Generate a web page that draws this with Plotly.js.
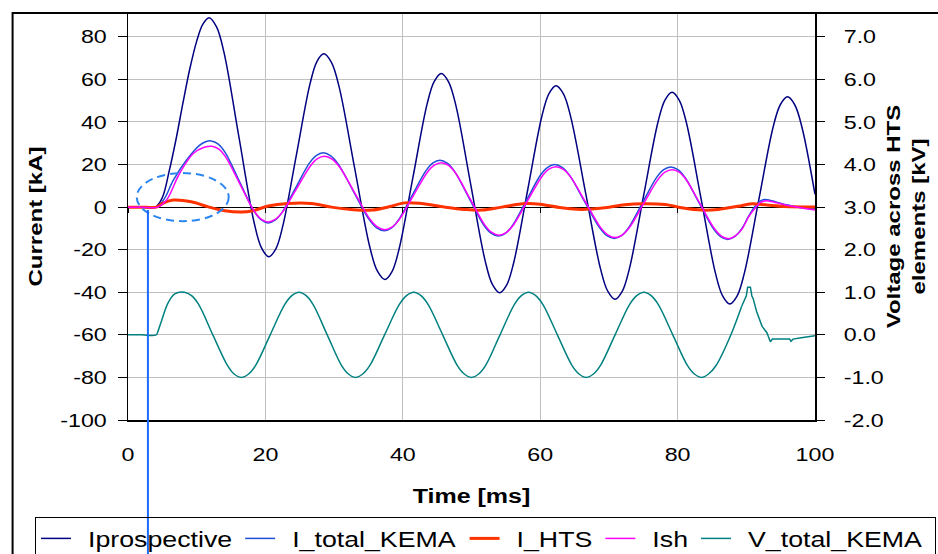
<!DOCTYPE html>
<html><head><meta charset="utf-8">
<script src="https://cdn.plot.ly/plotly-3.0.1.min.js"></script>
<style>html,body{margin:0;padding:0;background:#fff;overflow:hidden}#chart{width:938px;height:554px}</style>
</head><body><div id="chart"></div>
<script>
// ---- data (time in ms, currents in kA, voltage in kV) ----
var tIp = [0, 2, 4.0, 5.0, 6.0, 7.0, 8.0, 9.0, 10.0, 10.9, 11.8,
  12.89, 13.98, 16.15, 18.33, 19.41, 20.5, 21.5, 22.5, 24.5, 26.5, 27.5, 28.5,
  29.61, 30.73, 32.95, 35.18, 36.29, 37.4, 38.43, 39.45, 41.5, 43.55, 44.58, 45.6,
  46.66, 47.73, 49.85, 51.98, 53.04, 54.1, 55.13, 56.15, 58.2, 60.25, 61.28, 62.3,
  63.38, 64.45, 66.6, 68.75, 69.83, 70.9, 71.94, 72.98, 75.05, 77.13, 78.16, 79.2,
  80.25, 81.3, 83.4, 85.5, 86.55, 87.6, 88.65, 89.7, 91.8, 93.9, 94.95, 96.0,
  97.05, 98.1, 100];
var Iprospective = [0, 0, 0, 4.5, 17, 32, 49, 65, 78, 86, 89,
  84.7, 72.55, 32.85, -6.85, -19.0, -23.3, -19.7, -9.3, 24.35, 58.0, 68.4, 72,
  68.0, 56.5, 19, -18.5, -30.0, -34, -30.3, -19.8, 14.4, 48.6, 59.1, 62.8,
  58.9, 47.7, 11.3, -25.1, -36.3, -40.2, -36.5, -26.0, 8.4, 42.8, 53.3, 57,
  53.2, 42.3, 6.85, -28.6, -39.5, -43.3, -39.6, -29.0, 5.35, 39.75, 50.3, 54,
  50.2, 39.4, 4.25, -30.9, -41.7, -45.5, -41.8, -31.25, 3.15, 37.55, 48.1, 51.8,
  48.1, 37.55, 6];

var tItot = [0, 2, 4.2, 5.3, 6.6, 8.5, 10.4, 11.3, 12.1,
  13.14, 14.18, 16.25, 18.33, 19.36, 20.4, 21.4, 22.4, 24.4, 26.4, 27.4, 28.4,
  29.51, 30.63, 32.85, 35.08, 36.19, 37.3, 38.31, 39.33, 41.35, 43.38, 44.39, 45.4,
  46.46, 47.53, 49.65, 51.78, 52.84, 53.9, 54.93, 55.95, 58.0, 60.05, 61.08, 62.1,
  63.19, 64.28, 66.45, 68.63, 69.71, 70.8, 71.83, 72.85, 74.9, 76.95, 77.98, 79.0,
  80.04, 81.08, 83.15, 85.23, 86.26, 87.3, 88.3, 89.3, 90.3, 91.3, 92.0, 92.6,
  93.3, 94.3, 95.6, 97.6, 100];
var I_total_KEMA = [0, 0, 0, 4, 12.7, 22, 29, 30.7, 31.1,
  29.6, 25.5, 11.85, -1.8, -5.9, -7.4, -6.15, -2.6, 9.05, 20.7, 24.25, 25.5,
  24.1, 20.1, 7.2, -5.75, -9.7, -11.1, -9.85, -6.25, 5.45, 17.15, 20.75, 22,
  20.65, 16.8, 4.2, -8.4, -12.25, -13.6, -12.3, -8.7, 3.2, 15.1, 18.7, 20,
  18.7, 14.9, 2.65, -9.6, -13.4, -14.7, -13.4, -9.8, 2.1, 14.0, 17.6, 18.9,
  17.6, 13.9, 1.85, -10.2, -13.9, -15.2, -13.9, -10.4, -4.5, 0.5, 2.8, 3.6,
  3.4, 2.4, 1.3, -0.1, -0.8];

var tHTS = [0, 2, 4.1, 5.2, 6.6, 9.2, 11.7, 14.1, 16.5, 18.2, 20.4, 23.3, 26.7, 29.6, 32.5, 35.5, 38.0, 40.3, 42.7, 46.1, 49.0, 51.5, 54.4, 57.8, 60.0, 63.1, 66.0, 69.4, 72.3, 75.0, 78.2, 80.6, 83.5, 85.9, 88.8, 90.8, 93.0, 95.6, 100];
var I_HTS = [0, 0, 0, 2.0, 3.3, 2.5, 0.1, -1.7, -2.3, -1.7, 0.5, 1.7, 1.7, 0, -1.1, -1.4, 0.2, 2.0, 1.7, 0, -1.1, -1.4, 0, 1.7, 1.4, -0.3, -1.1, -0.3, 1.1, 1.6, 1.2, -0.3, -1.4, -1.1, 0.4, 1.6, 1.0, 0.3, 0.1];

var tIsh = [0, 2, 4.3, 5.6, 7.5, 9.5, 11.0, 12.2,
  13.23, 14.25, 16.3, 18.35, 19.38, 20.4, 21.43, 22.45, 24.5, 26.55, 27.58, 28.6,
  29.7, 30.8, 33.0, 35.2, 36.3, 37.4, 38.43, 39.45, 41.5, 43.55, 44.58, 45.6,
  46.65, 47.7, 49.8, 51.9, 52.95, 54.0, 55.04, 56.08, 58.15, 60.23, 61.26, 62.3,
  63.38, 64.45, 66.6, 68.75, 69.83, 70.9, 71.94, 72.98, 75.05, 77.13, 78.16, 79.2,
  80.23, 81.25, 83.3, 85.35, 86.38, 87.4, 88.4, 89.4, 90.4, 91.4, 92.1, 92.9,
  93.6, 94.5, 96.5, 98.5, 100];
var Ish = [0, 0, 0, 3.3, 15.8, 25.2, 28.0, 28.6,
  27.25, 23.4, 10.8, -1.8, -5.65, -7.0, -5.8, -2.45, 8.45, 19.35, 22.75, 23.9,
  22.6, 18.85, 6.65, -5.55, -9.3, -10.6, -9.4, -6.0, 5.15, 16.3, 19.7, 20.9,
  19.6, 15.9, 3.85, -8.2, -11.9, -13.2, -12.0, -8.5, 2.9, 14.3, 17.8, 19,
  17.75, 14.1, 2.35, -9.4, -13.0, -14.3, -13.1, -9.6, 1.65, 12.9, 16.4, 17.6,
  16.4, 12.85, 1.4, -10.05, -13.6, -14.8, -13.5, -10.2, -4.2, 0, 2.2, 3.0,
  2.7, 2.0, 0.5, -0.6, -1.4];

var tV = [0, 2, 4.1, 4.4, 4.9, 5.8, 6.8, 8.2,
  9.25, 10.3, 12.35, 14.45, 15.45, 16.5, 17.55, 18.6, 20.7, 22.8, 23.85, 24.9,
  25.93, 26.95, 29.0, 31.05, 32.08, 33.1, 34.16, 35.23, 37.35, 39.48, 40.54, 41.6,
  42.65, 43.7, 45.8, 47.9, 48.95, 50.0, 51.04, 52.08, 54.15, 56.23, 57.26, 58.3,
  59.35, 60.4, 62.5, 64.6, 65.65, 66.7, 67.75, 68.8, 70.9, 73.0, 74.05, 75.1,
  76.15, 77.2, 79.3, 81.4, 82.45, 83.5, 84.5, 85.6, 87.7, 89.3,
  90.0, 90.2, 90.6, 90.8, 91.0, 91.5, 92.3, 93.0, 93.5, 93.8, 96.3, 96.5, 96.8, 98.0, 100];
var V_total_KEMA = [0, 0, 0, 0.1, 0.34, 0.74, 0.96, 1.0,
  0.92, 0.71, 0, -0.71, -0.92, -1.0, -0.92, -0.71, 0, 0.71, 0.92, 1.0,
  0.92, 0.71, 0, -0.71, -0.92, -1.0, -0.92, -0.71, 0, 0.71, 0.92, 1.0,
  0.92, 0.71, 0, -0.71, -0.92, -1.0, -0.92, -0.71, 0, 0.71, 0.92, 1.0,
  0.92, 0.71, 0, -0.71, -0.92, -1.0, -0.92, -0.71, 0, 0.71, 0.92, 1.0,
  0.92, 0.71, 0, -0.71, -0.92, -1.0, -0.92, -0.72, -0.02, 0.66,
  0.92, 1.12, 1.12, 0.92, 0.85, 0.55, 0.2, 0.05, -0.16, -0.1, -0.1, -0.15, -0.1, -0.07, -0.02];
var V_SMOOTH_END_T = 89.3; // smooth sinusoidal part ends here, the switching transient follows

var xTicks = [0, 20, 40, 60, 80, 100];
var yTicks = [-100, -80, -60, -40, -20, 0, 20, 40, 60, 80];
var y2Ticks = [-2, -1, 0, 1, 2, 3, 4, 5, 6, 7];

// annotation marks (dashed ellipse and marker line), in data units
var ellipseBox = {x0: 1.27, x1: 14.66, y0: -6.6, y1: 16.0};
var markerT = 2.9, markerTopI = -1.4;

// ---- style ----
var S = 1.25; // horizontal glyph stretch of the reference font
var FONT = 'Liberation Sans, Arial, Helvetica, sans-serif';
var Y_RANGE = [-100, 91.2];
var Y2_RANGE = [-2, 7.56];

function ln(color, width, shape) { return {color: color, width: width, shape: shape, simplify: false}; }
var vSplit = tV.indexOf(V_SMOOTH_END_T);

var traces = [
  {x: tIp, y: Iprospective, name: 'Iprospective', type: 'scatter', mode: 'lines', line: ln('#000080', 1.5, 'spline')},
  {x: tItot, y: I_total_KEMA, name: 'I_total_KEMA', type: 'scatter', mode: 'lines', line: ln('#1f4fd6', 1.5, 'spline')},
  {x: tHTS, y: I_HTS, name: 'I_HTS', type: 'scatter', mode: 'lines', line: ln('#ff3300', 3, 'spline')},
  {x: tIsh, y: Ish, name: 'Ish', type: 'scatter', mode: 'lines', line: ln('#ff00ff', 1.5, 'spline')},
  {x: tV.slice(0, vSplit + 1), y: V_total_KEMA.slice(0, vSplit + 1), name: 'V_total_KEMA',
   type: 'scatter', mode: 'lines', xaxis: 'x2', yaxis: 'y2', line: ln('#008080', 1.5, 'spline')},
  {x: tV.slice(vSplit), y: V_total_KEMA.slice(vSplit), name: 'V_total_KEMA (transient)',
   showlegend: false, type: 'scatter', mode: 'lines', xaxis: 'x2', yaxis: 'y2', line: ln('#008080', 1.5, 'linear')}
];

function paperY(v) { return (v - Y_RANGE[0]) / (Y_RANGE[1] - Y_RANGE[0]); }

var layout = {
  width: 938, height: 554,
  margin: {l: 128, r: 123, t: 13, b: 134, autoexpand: false},
  paper_bgcolor: '#ffffff', plot_bgcolor: '#ffffff',
  font: {family: FONT, color: '#000000', size: 18.6},
  showlegend: true,
  legend: {orientation: 'h', x: -0.1354, xanchor: 'left', y: -0.2383, yanchor: 'top',
    bordercolor: '#000000', borderwidth: 1, bgcolor: 'rgba(0,0,0,0)',
    font: {family: FONT, size: 21.4, color: '#000000'}},
  xaxis: {range: [0, 100], tickvals: xTicks, ticktext: xTicks.map(String), ticks: '',
    showgrid: true, gridcolor: '#c0c0c0', gridwidth: 1, zeroline: false,
    showline: true, linecolor: '#000000', linewidth: 1.5, ticklabelstandoff: 17,
    tickfont: {family: FONT, size: 18.6}, automargin: false,
    title: {text: 'Time [ms]', standoff: 25, font: {family: FONT, size: 20, weight: 'bold'}}},
  xaxis2: {range: [0, 100], tickvals: xTicks, overlaying: 'x', anchor: 'free', position: paperY(0),
    side: 'bottom', ticks: 'outside', ticklen: 5, tickwidth: 1, tickcolor: '#000000',
    showticklabels: false, showgrid: false, zeroline: false, showline: false},
  yaxis: {range: Y_RANGE, tickvals: yTicks, ticktext: yTicks.map(String), ticks: 'outside', ticklen: 9,
    tickwidth: 1, tickcolor: '#000000', showgrid: true, gridcolor: '#c0c0c0', gridwidth: 1,
    zeroline: true, zerolinecolor: '#000000', zerolinewidth: 1.2,
    showline: true, linecolor: '#000000', linewidth: 1.5, ticklabelstandoff: 7,
    tickfont: {family: FONT, size: 18.6}, automargin: false,
    title: {text: 'Current [kA]', standoff: 22, font: {family: FONT, size: 19.2, weight: 'bold'}}},
  yaxis2: {range: Y2_RANGE, tickvals: y2Ticks, ticktext: y2Ticks.map(function (v) { return v.toFixed(1); }),
    overlaying: 'y', side: 'right', anchor: 'x', ticks: 'outside', ticklen: 8, tickwidth: 1,
    tickcolor: '#000000', showgrid: false, zeroline: false, showline: true, linecolor: '#000000',
    linewidth: 2, ticklabelstandoff: 15, tickfont: {family: FONT, size: 18.6}, automargin: false,
    title: {text: 'Voltage across HTS<br>elements [kV]', standoff: 12,
      font: {family: FONT, size: 19.2, weight: 'bold'}}},
  shapes: [
    {type: 'rect', xref: 'paper', yref: 'paper', x0: -0.168, x1: 1.5, y0: -0.6, y1: 1,
     line: {color: '#000000', width: 2}, fillcolor: 'rgba(0,0,0,0)', layer: 'above'},
    {type: 'circle', xref: 'x', yref: 'y', x0: ellipseBox.x0, x1: ellipseBox.x1,
     y0: ellipseBox.y0, y1: ellipseBox.y1, line: {color: '#2b86f2', width: 2, dash: '8px,5px'},
     fillcolor: 'rgba(0,0,0,0)', layer: 'above'},
    {type: 'line', xref: 'x', yref: 'paper', x0: markerT, x1: markerT, y0: -0.6, y1: paperY(markerTopI),
     line: {color: '#1a6cff', width: 2}, layer: 'above'}
  ]
};

var gd = document.getElementById('chart');
Plotly.newPlot(gd, traces, layout, {displayModeBar: false, staticPlot: true}).then(function () {
  gd.querySelectorAll('svg text').forEach(function (t) {
    var lines = t.querySelectorAll('tspan.line');
    var els = lines.length ? Array.prototype.slice.call(lines) : [t];
    els.forEach(function (el) {
      var L = el.getComputedTextLength();
      if (L > 0) {
        el.setAttribute('textLength', (L * S).toFixed(2));
        el.setAttribute('lengthAdjust', 'spacingAndGlyphs');
      }
    });
  });
  // re-flow legend entries for the wider text (sample 38px, 9px gap, 60px between entries)
  var legend = gd.querySelector('.legend');
  if (!legend) return;
  var sb = legend.querySelector('.scrollbox');
  if (sb) sb.removeAttribute('clip-path');
  var items = legend.querySelectorAll('.traces');
  var prevRight = null, lastRight = 0;
  Array.prototype.forEach.call(items, function (g) {
    var tx = g.querySelector('text.legendtext');
    g.querySelectorAll('.legendpoints path.js-line').forEach(function (p) { p.setAttribute('d', 'M0,0h38'); });
    var lp = g.querySelector('.legendpoints');
    if (lp) lp.setAttribute('transform', 'translate(5,0)');
    if (tx) tx.setAttribute('x', 52);
    if (prevRight !== null && tx) {
      var cur = tx.getBoundingClientRect().left;
      var delta = (prevRight + 60) - cur;
      var m = /translate\(\s*([-\d.e]+)[ ,]+([-\d.e]+)\s*\)/.exec(g.getAttribute('transform') || '');
      if (m) g.setAttribute('transform', 'translate(' + (parseFloat(m[1]) + delta) + ',' + m[2] + ')');
    }
    if (tx) { prevRight = tx.getBoundingClientRect().right; lastRight = prevRight; }
  });
  var bg = legend.querySelector('rect.bg');
  if (bg) {
    var bl = bg.getBoundingClientRect().left;
    bg.setAttribute('width', (lastRight + 13 - bl).toFixed(1));
    bg.setAttribute('height', 80);
  }
});
</script>
</body></html>
